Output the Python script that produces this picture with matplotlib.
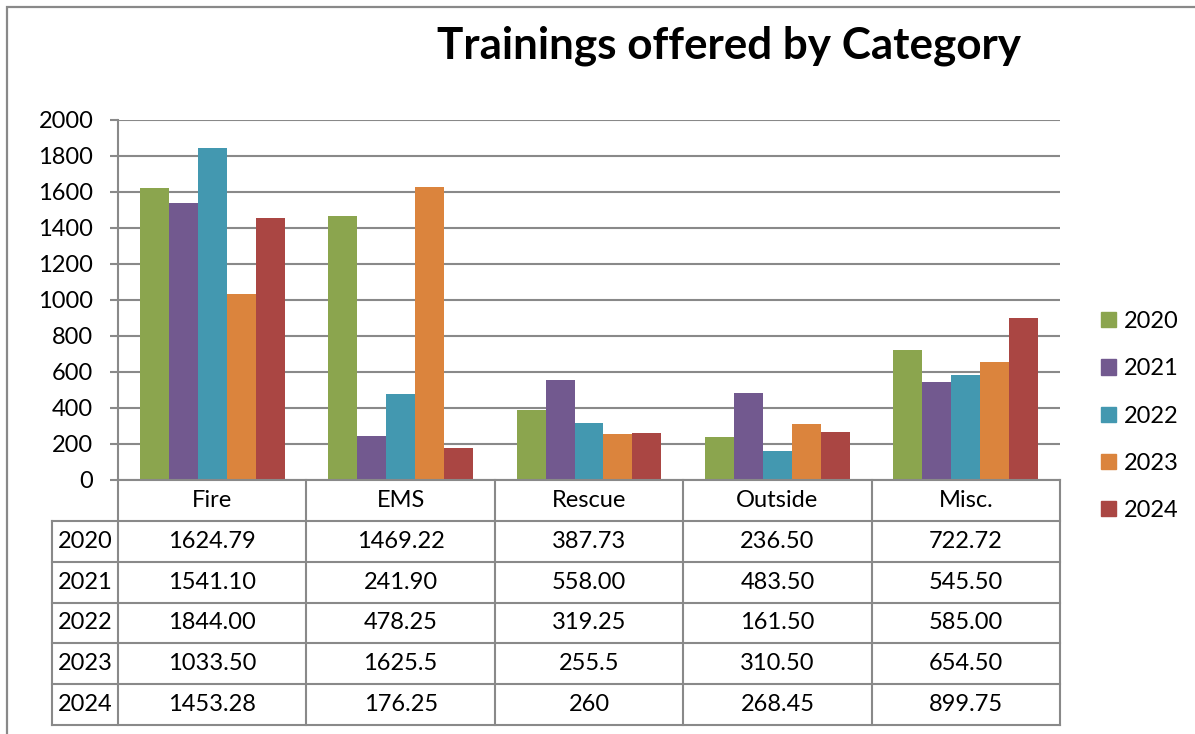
import matplotlib
matplotlib.use("Agg")
import matplotlib.pyplot as plt
from matplotlib.patches import Patch, Rectangle
import numpy as np

plt.rcParams['font.family'] = ['Lato', 'DejaVu Sans']

# data, as printed in the table under the chart
categories = ['Fire', 'EMS', 'Rescue', 'Outside', 'Misc.']
years = ['2020', '2021', '2022', '2023', '2024']
v2020 = ['1624.79', '1469.22', '387.73', '236.50', '722.72']
v2021 = ['1541.10', '241.90', '558.00', '483.50', '545.50']
v2022 = ['1844.00', '478.25', '319.25', '161.50', '585.00']
v2023 = ['1033.50', '1625.5', '255.5', '310.50', '654.50']
v2024 = ['1453.28', '176.25', '260', '268.45', '899.75']
colors = ['#8BA54E', '#72598F', '#4398B0', '#DB843D', '#AA4643']

rows = [v2020, v2021, v2022, v2023, v2024]
grid_col = '#898989'

W, H = 1195, 734
fig = plt.figure(figsize=(W / 100, H / 100), dpi=100)

def px(x0, y0, x1, y1):
    # pixel box -> figure fraction [left, bottom, width, height]
    return [x0 / W, 1 - y1 / H, (x1 - x0) / W, (y1 - y0) / H]

# outer chart frame (only top and left edges fall inside the picture)
fig.patches.append(Rectangle((7 / W, -0.1), 1.2, 1 - 7 / H + 0.1, transform=fig.transFigure,
                             fill=False, edgecolor=grid_col, lw=1.6))

ax = fig.add_axes(px(118, 120, 1060, 480))
x = np.arange(len(categories))
bw = 1 / 6.5
for i, (yr, vals) in enumerate(zip(years, rows)):
    h = [float(s) for s in vals]
    ax.bar(x + (i - 2) * bw, h, width=bw, color=colors[i], label=yr, zorder=3)

ax.set_xlim(-0.5, len(categories) - 0.5)
ax.set_ylim(0, 2000)
ax.set_yticks(np.arange(0, 2001, 200))
ax.yaxis.grid(True, color=grid_col, lw=1.5, zorder=0)
ax.set_xticks([])
for s in ['top', 'right', 'bottom']:
    ax.spines[s].set_visible(False)
ax.spines['left'].set_color(grid_col)
ax.spines['left'].set_linewidth(1.5)
ax.tick_params(axis='y', length=5.8, width=1.5, color=grid_col, labelsize=17, pad=12)

# data table below the plot
tax = fig.add_axes(px(118, 480, 1060, 725), sharex=ax)
tax.set_ylim(6, 0)
tax.axis('off')
lab_w = 66 / 188.4
kw = dict(color=grid_col, lw=1.5, clip_on=False)
tax.plot([-0.5, 4.5], [0, 0], **kw)
for j in range(len(categories) + 1):
    tax.plot([j - 0.5, j - 0.5], [0, 6], **kw)
tax.plot([-0.5 - lab_w, -0.5 - lab_w], [1, 6], **kw)
for r in range(1, 7):
    tax.plot([-0.5 - lab_w, 4.5], [r, r], **kw)
for j, c in enumerate(categories):
    tax.text(j, 0.5, c, ha='center', va='center', fontsize=17)
for r, (yr, vals) in enumerate(zip(years, rows)):
    tax.text(-0.5 - lab_w / 2, r + 1.5, yr, ha='center', va='center', fontsize=17)
    for j, s in enumerate(vals):
        tax.text(j, r + 1.5, s, ha='center', va='center', fontsize=17)

fig.text(729 / W, 1 - 46 / H, 'Trainings offered by Category', ha='center', va='center',
         fontsize=31.7, fontweight='bold')

handles = [Patch(color=c, label=y) for c, y in zip(colors, years)]
fig.legend(handles=handles, loc='center left', bbox_to_anchor=(1101 / W, 1 - 416 / H),
           frameon=False, fontsize=17, handlelength=0.62, handleheight=0.62,
           handletextpad=0.35, labelspacing=1.115, borderpad=0, borderaxespad=0)

fig.savefig('out.png', dpi=100)
